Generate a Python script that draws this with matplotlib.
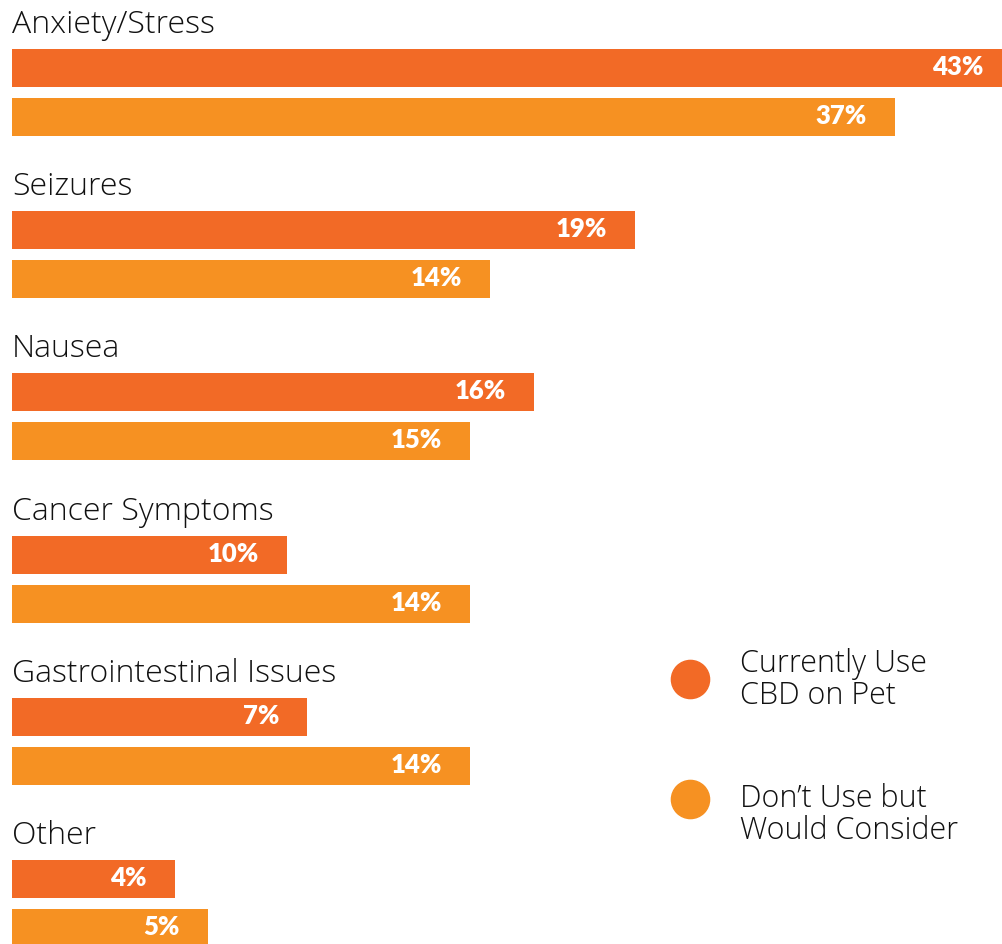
import matplotlib
matplotlib.use("Agg")
import matplotlib.pyplot as plt

categories = ["Anxiety/Stress", "Seizures", "Nausea", "Cancer Symptoms",
              "Gastrointestinal Issues", "Other"]
# printed percentages
pct_current = [43, 19, 16, 10, 7, 4]
pct_consider = [37, 14, 15, 14, 14, 5]
# bar lengths as drawn in the picture (they do not follow the printed numbers)
bar_current = [45.4, 28.3, 23.7, 12.5, 13.4, 7.4]
bar_consider = [40.1, 21.7, 20.8, 20.8, 20.8, 8.9]
series_names = ["Currently Use\nCBD on Pet", "Don\u2019t Use but\nWould Consider"]
colors = ["#F26A26", "#F69122"]

label_font = ["Open Sans", "DejaVu Sans"]
value_font = ["Lato", "DejaVu Sans"]

W, H, dpi = 1003, 944, 100
fig = plt.figure(figsize=(W / dpi, H / dpi), dpi=dpi)
ax = fig.add_axes([12 / W, 0, (W - 12) / W, 1])
ax.set_xlim(0, 45)
step = 162.2
ax.set_ylim((H - 68) / step, -68 / step)
ax.axis("off")

bh = 38 / step
off = 49 / step
pad = 28 / ((W - 12) / 45)

for i, cat in enumerate(categories):
    ax.barh(i, bar_current[i], height=bh, color=colors[0])
    ax.barh(i + off, bar_consider[i], height=bh, color=colors[1])
    ax.text(0, i - 35 / step, cat, fontsize=23, fontweight="light",
            family=label_font, color="#111111", ha="left", va="baseline")
    ax.text(bar_current[i] - pad, i - 1 / step, f"{pct_current[i]}%", fontsize=18.5,
            fontweight="heavy", family=value_font, color="white", ha="right", va="center")
    ax.text(bar_consider[i] - pad, i + off - 1 / step, f"{pct_consider[i]}%", fontsize=18.5,
            fontweight="heavy", family=value_font, color="white", ha="right", va="center")

# legend (circle centre, text top) in pixels
for name, c, cy, ty in zip(series_names, colors, [679, 799], [648, 783]):
    fig.add_artist(plt.Line2D([690 / W], [1 - cy / H], marker="o", markersize=27.5,
                              color=c, linestyle="none", transform=fig.transFigure))
    fig.text(740 / W, 1 - ty / H, name, fontsize=22, fontweight="light",
             family=label_font, color="#111111", ha="left", va="top", linespacing=1.02)

fig.savefig("out.png", dpi=dpi)
